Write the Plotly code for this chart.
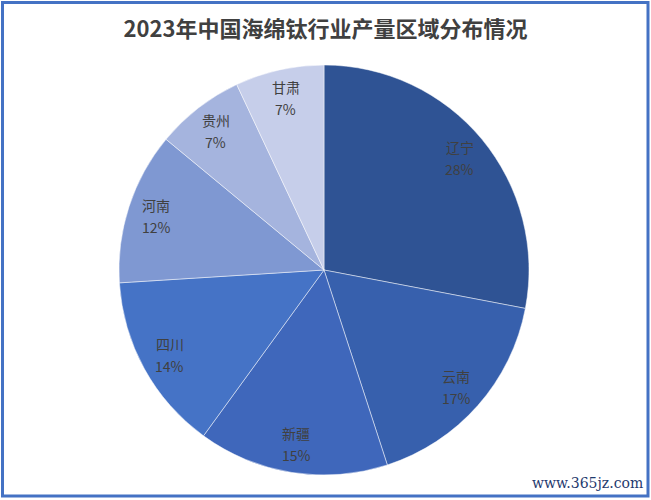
import math
import plotly.graph_objects as go

regions = ["辽宁", "云南", "新疆", "四川", "河南", "贵州", "甘肃"]
shares = [28, 17, 15, 14, 12, 7, 7]
colors = ["#2F5394", "#3760AD", "#3F67BB", "#4573C6", "#7F98D2", "#A5B4DE", "#C6CEEA"]
title = "2023年中国海绵钛行业产量区域分布情况"

W, H = 651, 500
ML, MR, MT, MB = 0, 3, 65, 25
PW, PH = W - ML - MR, H - MT - MB
R = min(PW, PH) / 2

fig = go.Figure(go.Pie(
    labels=regions,
    values=shares,
    sort=False,
    direction="clockwise",
    rotation=0,
    marker=dict(colors=colors, line=dict(color="rgba(255,255,255,0.6)", width=0.8)),
    textinfo="none",
    hoverinfo="label+percent",
    showlegend=False,
    domain=dict(x=[0, 1], y=[0, 1]),
))

# data labels placed along each slice's mid-angle (name line and percent line)
total = sum(shares)
annotations = []
cum = 0
lab_font = dict(family="Noto Sans CJK SC", size=14, color="#404040")
for name, v in zip(regions, shares):
    mid = (cum + v / 2) / total * 2 * math.pi
    cum += v
    r = 0.86 * R
    x = 0.5 + r * math.sin(mid) / PW
    y = 0.5 + r * math.cos(mid) / PH
    annotations.append(dict(text=name, x=x, y=y + 11 / PH, xref="paper", yref="paper",
                            xanchor="center", yanchor="middle", showarrow=False, font=lab_font))
    annotations.append(dict(text=f"{round(v / total * 100)}%", x=x, y=y - 11 / PH,
                            xref="paper", yref="paper", xanchor="center", yanchor="middle",
                            showarrow=False, font=lab_font))

annotations.append(dict(text="www.365jz.com", xref="paper", yref="paper",
                        x=(645 - ML) / PW, y=(MT + PH - 483) / PH,
                        xanchor="right", yanchor="middle", showarrow=False,
                        font=dict(family="DejaVu Serif", size=14, color="#1F3A6E")))

fig.update_layout(
    width=W, height=H,
    margin=dict(l=ML, r=MR, t=MT, b=MB),
    paper_bgcolor="white",
    plot_bgcolor="white",
    title=dict(text="<b>" + title + "</b>", x=0.5, xanchor="center", y=1 - 29 / H, yanchor="middle",
               font=dict(family="Noto Sans CJK SC", size=22, color="#404040")),
    shapes=[dict(type="rect", xref="paper", yref="paper",
                 x0=(2.5 - ML) / PW, x1=(648 - ML) / PW,
                 y0=(MT + PH - 496) / PH, y1=(MT + PH - 2.5) / PH,
                 line=dict(color="#4472C4", width=3), layer="above")],
    annotations=annotations,
)

fig.write_html("out.html", config={"displayModeBar": False},
               post_script="document.body.style.margin='0';")
